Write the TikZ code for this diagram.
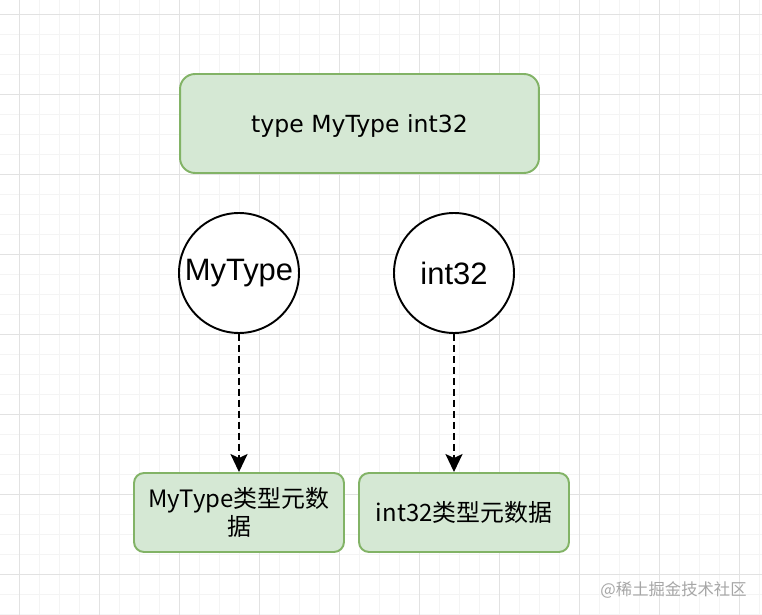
\documentclass[tikz,border=0pt]{standalone}
\usepackage{fontspec}
\usepackage{tikz}
\usetikzlibrary{arrows.meta,positioning}
\setmainfont{DejaVu Sans}
\newfontfamily\cjkfont{Noto Sans CJK SC}
\newfontfamily\arialfont{Liberation Sans}
\definecolor{metafill}{HTML}{D5E8D4}
\definecolor{metaline}{HTML}{82B366}
\definecolor{gridmajor}{HTML}{E2E2E2}
\definecolor{gridminor}{HTML}{F4F4F4}
\tikzset{
  every picture/.append style={line cap=round,line join=round},
  decl box/.style={draw=metaline,fill=metafill,line width=1.1pt,rounded corners=0.3cm,
    minimum width=7.18cm,minimum height=1.98cm,text depth=0pt,
    font=\fontsize{13.4}{16}\selectfont},
  meta box/.style={draw=metaline,fill=metafill,line width=1.1pt,rounded corners=0.2cm,
    minimum width=4.2cm,minimum height=1.58cm,align=center,inner sep=0pt,
    font=\cjkfont\fontsize{13.6}{16}\selectfont},
  type circle/.style={circle,draw=black,fill=white,line width=1.1pt,minimum size=2.4cm,
    inner sep=0pt,font=\arialfont\fontsize{17.6}{20}\selectfont},
  meta arrow/.style={line width=1.4pt,dash pattern=on 0.14cm off 0.08cm,line cap=butt,
    -{Stealth[length=0.36cm,width=0.34cm,inset=0.08cm,line cap=butt]}},
  mark text/.style={text=black!35,font=\cjkfont\fontsize{9.3}{11}\selectfont,inner sep=0pt}
}
\begin{document}
\begin{tikzpicture}[x=0.02cm,y=-0.02cm]
  \useasboundingbox (0,0) rectangle (762,615);
  \fill[white] (0,0) rectangle (762,615);
  % grid
  \begin{scope}
    \clip (0,0) rectangle (762,615);
    \foreach \gx in {-1,19,...,779} \draw[gridminor,line width=0.5pt] (\gx,0) -- (\gx,615);
    \foreach \gy in {14,34,...,634} \draw[gridminor,line width=0.5pt] (0,\gy) -- (762,\gy);
    \foreach \gx in {19,99,...,779} \draw[gridmajor,line width=0.5pt] (\gx,0) -- (\gx,615);
    \foreach \gy in {14,94,...,634} \draw[gridmajor,line width=0.5pt] (0,\gy) -- (762,\gy);
  \end{scope}

  \node[decl box] (decl) at (359.5,123.5) {type MyType int32};

  \node[type circle] (mytype) at (239,273) {MyType};
  \node[type circle] (int) at (454,273) {int32};

  \node[meta box] (mymeta) at (239,512.5) {MyType类型元数\\据};
  \node[meta box] (intmeta) at (464,512.5) {int32类型元数据};

  \draw[meta arrow] (mytype.south) -- (mymeta.north);
  \draw[meta arrow] (int.south) -- (int.south |- intmeta.north);

  \node[mark text,anchor=east] (mark) at (747,590) {@稀土掘金技术社区};
\end{tikzpicture}
\end{document}
